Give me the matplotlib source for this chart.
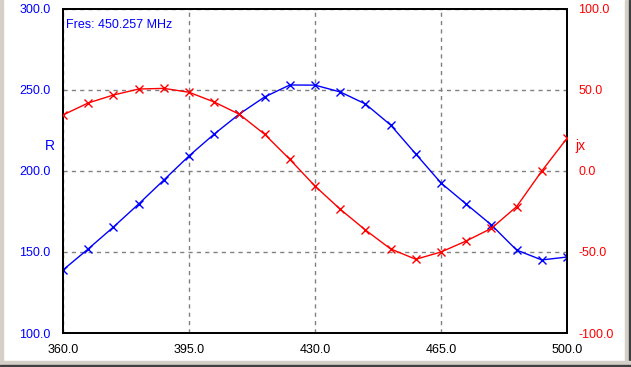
import matplotlib
matplotlib.use("Agg")

import matplotlib.pyplot as plt
from matplotlib.patches import Rectangle
from matplotlib.ticker import FormatStrFormatter

# frequency sweep (MHz)
freq = [360, 367, 374, 381, 388, 395, 402, 409, 416, 423, 430,
        437, 444, 451, 458, 465, 472, 479, 486, 493, 500]

# resistance R (left axis)
r_vals = [138.9, 151.9, 165.4, 179.6, 194.4, 209.3, 222.8, 235.2, 245.7, 253.1, 253.0,
          248.8, 241.4, 228.4, 210.5, 192.6, 179.6, 166.7, 151.2, 145.1, 146.9]

# reactance jx (right axis)
jx_vals = [34.6, 42.0, 46.9, 50.6, 51.0, 48.6, 42.6, 35.0, 22.7, 7.2, -9.3,
           -23.6, -36.4, -48.1, -54.5, -50.0, -43.2, -35.4, -22.0, 0.0, 20.2]

x_ticks = [360, 395, 430, 465, 500]
r_ticks = [100, 150, 200, 250, 300]
jx_ticks = [-100, -50, 0, 50, 100]

fres_text = "Fres: 450.257 MHz"

W, H = 631, 367
fig = plt.figure(figsize=(W / 100, H / 100), dpi=100)
fig.patch.set_facecolor("white")

# window frame (grey strips + dark edge)
grey = "#d4d0c8"
fig.patches.append(Rectangle((0, 0), 3 / W, 1, transform=fig.transFigure, color=grey, zorder=0))
fig.patches.append(Rectangle((625 / W, 0), 6 / W, 1, transform=fig.transFigure, color=grey, zorder=0))
fig.patches.append(Rectangle((629 / W, 0), 2 / W, 1, transform=fig.transFigure, color="#404040", zorder=0))
fig.patches.append(Rectangle((0, 0), 1, 6 / H, transform=fig.transFigure, color=grey, zorder=0))
fig.patches.append(Rectangle((0, 0), 1, 2 / H, transform=fig.transFigure, color="#404040", zorder=0))

left, right, top, bottom = 63, 567, 9, 333
ax = fig.add_axes([left / W, 1 - bottom / H, (right - left) / W, (bottom - top) / H])
ax2 = ax.twinx()

font = "Liberation Sans"
fs = 9

ax.plot(freq, r_vals, color="blue", lw=1, marker="x", ms=6, mew=1, zorder=3)
ax2.plot(freq, jx_vals, color="red", lw=1, marker="x", ms=6, mew=1, zorder=3)

ax.set_xlim(360, 500)
ax.set_ylim(100, 300)
ax2.set_ylim(-100, 100)

ax.set_xticks(x_ticks)
ax.set_yticks(r_ticks)
ax2.set_yticks(jx_ticks)
ax.xaxis.set_major_formatter(FormatStrFormatter("%.1f"))
ax.yaxis.set_major_formatter(FormatStrFormatter("%.1f"))
ax2.yaxis.set_major_formatter(FormatStrFormatter("%.1f"))

ax.tick_params(axis="x", length=0, pad=8, labelsize=fs, colors="black")
ax.tick_params(axis="y", length=0, pad=9, labelsize=fs, labelcolor="blue")
ax2.tick_params(axis="y", length=0, pad=8, labelsize=fs, labelcolor="red")
for lbl in ax.get_xticklabels() + ax.get_yticklabels() + ax2.get_yticklabels():
    lbl.set_fontfamily(font)

ax.grid(True, color="#808080", linestyle=(0, (3, 3)), linewidth=1)
for a in (ax, ax2):
    for s in a.spines.values():
        s.set_linewidth(1.3)
        s.set_color("black")

ax.text(0.006, 0.951, fres_text, transform=ax.transAxes, color="blue",
        fontsize=fs, family=font, ha="left", va="center")
ax.text(-0.026, 0.577, "R", transform=ax.transAxes, color="blue",
        fontsize=fs + 1, family=font, ha="center", va="center")
ax.text(1.026, 0.577, "jx", transform=ax.transAxes, color="red",
        fontsize=fs + 1, family=font, ha="center", va="center")

fig.savefig("out.png", dpi=100)
plt.close(fig)
